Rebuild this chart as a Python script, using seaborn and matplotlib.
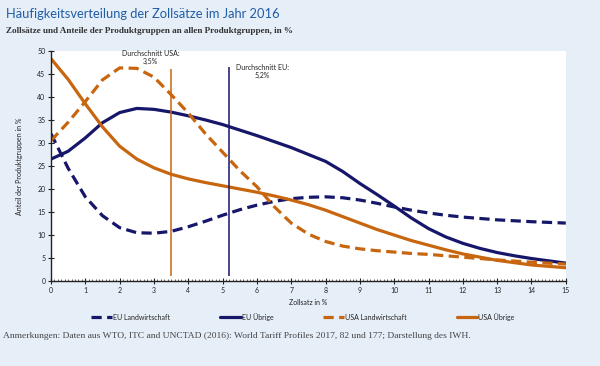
import numpy as np
import pandas as pd
import matplotlib
matplotlib.use("Agg")
import matplotlib.pyplot as plt
from matplotlib.ticker import MultipleLocator
import seaborn as sns

# ── Daten ────────────────────────────────────────────────────
x_half = [0, 0.5, 1, 1.5, 2, 2.5, 3, 3.5, 4, 4.5, 5, 5.5, 6, 6.5, 7, 7.5,
          8, 8.5, 9, 9.5, 10, 10.5, 11, 11.5, 12, 12.5, 13, 13.5, 14, 14.5, 15]

eu_landwirtschaft = [32, 24.5, 18.3, 14.2, 11.6, 10.5, 10.4, 10.8, 11.8, 13.0,
                     14.3, 15.5, 16.5, 17.3, 17.9, 18.2, 18.3, 18.1, 17.6, 16.9,
                     16.1, 15.4, 14.8, 14.3, 13.9, 13.6, 13.3, 13.1, 12.9, 12.75, 12.6]
eu_uebrige = [26.5, 28.2, 31.1, 34.4, 36.6, 37.5, 37.3, 36.7, 35.9, 35.0,
              34.0, 32.8, 31.6, 30.3, 29.0, 27.5, 26.0, 23.8, 21.2, 18.8,
              16.3, 13.7, 11.4, 9.6, 8.2, 7.1, 6.2, 5.5, 4.9, 4.4, 3.9]
usa_landwirtschaft = [30.5, 34.5, 39.0, 43.7, 46.3, 46.2, 44.3, 40.5, 36.5, 32.0,
                      28.0, 24.0, 20.5, 16.2, 12.6, 10.2, 8.6, 7.6, 7.0, 6.6,
                      6.3, 6.0, 5.8, 5.5, 5.2, 4.9, 4.6, 4.35, 4.1, 3.9, 3.7]
usa_uebrige = [48.3, 43.8, 38.5, 33.5, 29.3, 26.5, 24.6, 23.2, 22.2, 21.4,
               20.7, 20.0, 19.3, 18.5, 17.6, 16.6, 15.4, 14.0, 12.6, 11.2,
               10.0, 8.8, 7.8, 6.8, 5.9, 5.2, 4.5, 4.0, 3.5, 3.2, 2.9]

avg_usa = 3.5
avg_eu = 5.2

NAVY = "#16166b"
ORANGE = "#c8660f"
BG = "#e6eef8"

series = {
    "EU Landwirtschaft": (eu_landwirtschaft, NAVY, (3.2, 1.7)),
    "EU Übrige": (eu_uebrige, NAVY, ""),
    "USA Landwirtschaft": (usa_landwirtschaft, ORANGE, (3.2, 1.7)),
    "USA Übrige": (usa_uebrige, ORANGE, ""),
}

df = pd.concat(
    [pd.DataFrame({"Zollsatz": x_half, "Anteil": vals, "Gruppe": name})
     for name, (vals, _, _) in series.items()],
    ignore_index=True,
)

# ── Zeichnen ─────────────────────────────────────────────────
sns.set_style("ticks")
plt.rcParams["font.family"] = ["Lato", "DejaVu Sans"]

fig = plt.figure(figsize=(6, 3.66), dpi=100, facecolor=BG)
ax = fig.add_axes([0.085, 0.232, 0.858, 0.629])
ax.set_facecolor("white")

sns.lineplot(
    data=df, x="Zollsatz", y="Anteil", hue="Gruppe", style="Gruppe",
    palette={k: v[1] for k, v in series.items()},
    dashes={k: v[2] for k, v in series.items()},
    linewidth=2.3, ax=ax, legend=True,
)

ax.vlines(avg_usa, 1, 46, color=ORANGE, linewidth=1.1)
ax.vlines(avg_eu, 1, 46.5, color=NAVY, linewidth=1.1)
ax.text(2.9, 48.5, "Durchschnitt USA:\n3,5%", ha="center", va="center",
        fontsize=5, color="#222222", linespacing=1.2)
ax.text(6.15, 45.6, "Durchschnitt EU:\n5,2%", ha="center", va="center",
        fontsize=5, color="#222222", linespacing=1.2)

ax.set_xlim(0, 15)
ax.set_ylim(0, 50)
ax.xaxis.set_major_locator(MultipleLocator(1))
ax.xaxis.set_minor_locator(MultipleLocator(0.1))
ax.yaxis.set_major_locator(MultipleLocator(5))
ax.tick_params(axis="both", labelsize=5, length=3, width=0.8, pad=2,
               colors="#222222")
ax.tick_params(axis="x", which="major", direction="inout", length=4)
ax.tick_params(axis="x", which="minor", direction="in", length=1.5, width=0.5)
ax.tick_params(axis="y", direction="inout", length=4)
for s in ["top", "right"]:
    ax.spines[s].set_visible(False)
for s in ["left", "bottom"]:
    ax.spines[s].set_color("#222222")
    ax.spines[s].set_linewidth(1.0)

ax.set_xlabel("Zollsatz in %", fontsize=5, labelpad=4, color="#222222")
ax.set_ylabel("Anteil der Produktgruppen in %", fontsize=5, labelpad=10,
              color="#222222")

handles, labels = ax.get_legend_handles_labels()
ax.legend_.remove()
leg = fig.legend(handles, labels, loc="center", bbox_to_anchor=(0.505, 0.134),
                 ncol=4, frameon=False, fontsize=5, handlelength=3.0,
                 handletextpad=0.1, columnspacing=7.2)
for line in leg.get_lines():
    line.set_linewidth(2.3)

fig.text(0.01, 0.962, "Häufigkeitsverteilung der Zollsätze im Jahr 2016",
         fontsize=9.3, color="#1f5ca6", va="center")
fig.text(0.01, 0.915,
         "Zollsätze und Anteile der Produktgruppen an allen Produktgruppen, in %",
         fontsize=6.6, fontweight="bold", family="Liberation Serif",
         color="#333333", va="center")
fig.text(0.005, 0.083,
         "Anmerkungen: Daten aus WTO, ITC and UNCTAD (2016): World Tariff Profiles 2017, 82 und 177; Darstellung des IWH.",
         fontsize=6.8, family="Liberation Serif", color="#444444", va="center")

fig.savefig("out.png", dpi=100, facecolor=BG)
